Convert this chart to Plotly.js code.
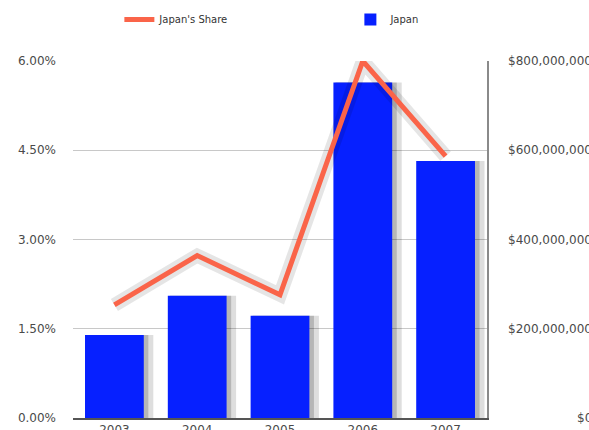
<!DOCTYPE html>
<html>
<head>
<meta charset="utf-8">
<script src="https://cdn.plot.ly/plotly-3.0.1.min.js"></script>
<style>html,body{margin:0;padding:0;background:#fff;}#chart{width:589px;height:430px;}</style>
</head>
<body>
<div id="chart"></div>
<script>
// Data
const years = ['2003', '2004', '2005', '2006', '2007'];
const japanValue = [186000000, 274000000, 229000000, 752000000, 576000000];
const japanShare = [1.90, 2.73, 2.07, 6.00, 4.40];
const shareTicks = [0, 1.5, 3.0, 4.5, 6.0];
const valueTicks = [0, 200000000, 400000000, 600000000, 800000000];

const font = {family: 'DejaVu Sans, Arial, sans-serif', size: 12, color: '#4a4a4a'};
const legFont = {family: 'DejaVu Sans, Arial, sans-serif', size: 10, color: '#333'};

const traces = [
  {
    type: 'bar', x: years, y: japanValue, yaxis: 'y',
    marker: {color: 'rgba(0,0,0,0.13)'}, width: 0.80, offset: -0.33,
    showlegend: false, hoverinfo: 'skip'
  },
  {
    type: 'bar', x: years, y: japanValue, yaxis: 'y',
    marker: {color: 'rgba(0,0,0,0.18)'}, width: 0.74, offset: -0.33,
    showlegend: false, hoverinfo: 'skip'
  },
  {
    type: 'bar', x: years, y: japanValue, yaxis: 'y', name: 'Japan',
    marker: {color: '#0620ff', line: {width: 0}}, width: 0.71, offset: -0.355,
    legend: 'legend2'
  },
  {
    type: 'scatter', mode: 'lines', x: years, y: japanShare, yaxis: 'y2',
    line: {color: 'rgba(0,0,0,0.10)', width: 14}, showlegend: false, hoverinfo: 'skip'
  },
  {
    type: 'scatter', mode: 'lines', x: years, y: japanShare, yaxis: 'y2',
    name: "Japan's Share", line: {color: '#fa6449', width: 5},
    legend: 'legend'
  }
];

const annotations = valueTicks.map(v => ({
  xref: 'paper', yref: 'y', x: 1.258, y: v, xanchor: 'right', yanchor: 'middle',
  text: '$' + v.toLocaleString('en-US'), showarrow: false, font: font
}));

const layout = {
  width: 589, height: 430,
  margin: {l: 73, r: 102, t: 61, b: 12, autoexpand: false},
  paper_bgcolor: '#ffffff', plot_bgcolor: '#ffffff',
  font: font,
  barmode: 'overlay',
  showlegend: true,
  legend: {
    orientation: 'h', x: 0.112, xanchor: 'left', y: 1.116, yanchor: 'middle',
    bgcolor: 'rgba(0,0,0,0)', font: legFont
  },
  legend2: {
    orientation: 'h', x: 0.67, xanchor: 'left', y: 1.116, yanchor: 'middle',
    bgcolor: 'rgba(0,0,0,0)', font: legFont
  },
  annotations: annotations,
  xaxis: {
    type: 'category', range: [-0.5, 4.5], showgrid: false, showline: true,
    linecolor: '#555', linewidth: 2, ticks: '', tickfont: font, zeroline: false
  },
  yaxis: {
    side: 'right', range: [0, 800000000], tickvals: valueTicks,
    showticklabels: false, showgrid: true, gridcolor: '#c8c8c8', gridwidth: 1,
    showline: true, linecolor: '#8a8a8a', linewidth: 1.5, zeroline: false, ticks: ''
  },
  yaxis2: {
    side: 'left', overlaying: 'y', range: [0, 6], tickvals: shareTicks,
    ticktext: shareTicks.map(v => v.toFixed(2) + '%'),
    showgrid: false, zeroline: false,
    showline: false, ticks: '', tickfont: font, ticklabelstandoff: 16
  }
};

Plotly.newPlot('chart', traces, layout, {displayModeBar: false, staticPlot: true});
</script>
</body>
</html>
